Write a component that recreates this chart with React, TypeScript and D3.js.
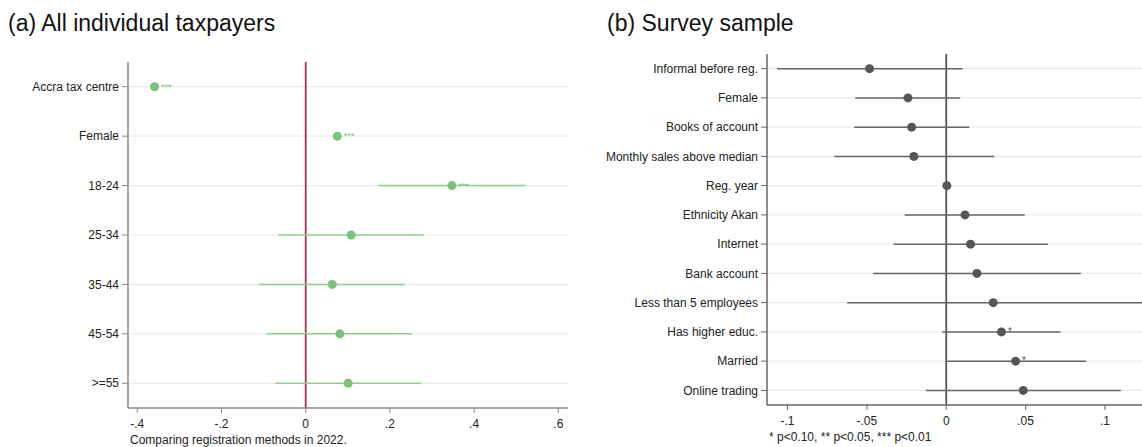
import React from 'react';
import * as d3 from 'd3';

// (a) all individual taxpayers
const catsA = ['Accra tax centre', 'Female', '18-24', '25-34', '35-44', '45-54', '>=55'];
const coefA = [-0.359, 0.075, 0.347, 0.108, 0.063, 0.081, 0.101];
const loA = [-0.366, 0.068, 0.172, -0.065, -0.111, -0.092, -0.072];
const hiA = [-0.352, 0.082, 0.522, 0.281, 0.235, 0.253, 0.274];
const starsA = ['***', '***', '***', '', '', '', ''];
const ticksA = [-0.4, -0.2, 0, 0.2, 0.4, 0.6];
const tickLabelsA = ['-.4', '-.2', '0', '.2', '.4', '.6'];

// (b) survey sample
const catsB = ['Informal before reg.', 'Female', 'Books of account', 'Monthly sales above median', 'Reg. year',
  'Ethnicity Akan', 'Internet', 'Bank account', 'Less than 5 employees', 'Has higher educ.', 'Married', 'Online trading'];
const coefB = [-0.0483, -0.0241, -0.0218, -0.0204, 0.0004, 0.0118, 0.0153, 0.0193, 0.0296, 0.0348, 0.0437, 0.0485];
const loB = [-0.1066, -0.0573, -0.058, -0.0705, 0.0002, -0.0262, -0.0332, -0.046, -0.0624, -0.0025, 0.0, -0.0128];
const hiB = [0.0103, 0.0088, 0.0145, 0.0302, 0.0006, 0.0495, 0.064, 0.0848, 0.125, 0.072, 0.0882, 0.110];
const starsB = ['', '', '', '', '', '', '', '', '', '*', '*', ''];
const ticksB = [-0.1, -0.05, 0, 0.05, 0.1];
const tickLabelsB = ['-.1', '-.05', '0', '.05', '.1'];

const font = 'Liberation Sans, Arial, sans-serif';

type PanelProps = {
  title: string; titleX: number;
  cats: string[]; coef: number[]; lo: number[]; hi: number[]; stars: string[];
  ticks: number[]; tickLabels: string[];
  left: number; right: number; top: number; bottom: number;
  domain: [number, number];
  color: string; ciColor: string; zeroColor: string; axisColor: string;
  r: number; starSize: number; note: string;
};

function Panel(p: PanelProps) {
  const x = d3.scaleLinear().domain(p.domain).range([p.left, p.right]);
  const y = d3.scalePoint<string>().domain(p.cats).range([p.top, p.bottom]).padding(0.5);
  const clip = (v: number) => Math.max(p.left, Math.min(p.right, x(v)));
  return (
    <g fontFamily={font}>
      <text x={p.titleX} y={31} fontSize={23} fill="#111">{p.title}</text>
      {p.cats.map(c => (
        <line key={'g' + c} x1={p.left} x2={p.right} y1={y(c)} y2={y(c)} stroke="#ececec" strokeWidth={1.2} />
      ))}
      <line x1={x(0)} x2={x(0)} y1={p.top} y2={p.bottom} stroke={p.zeroColor} strokeWidth={1.8} />
      {p.cats.map((c, i) => (
        <g key={'m' + c}>
          <line x1={clip(p.lo[i])} x2={clip(p.hi[i])} y1={y(c)} y2={y(c)} stroke={p.ciColor} strokeWidth={1.5} />
          <circle cx={x(p.coef[i])} cy={y(c)} r={p.r} fill={p.color} />
          {p.stars[i] && (
            <text x={x(p.coef[i]) + p.r + 2} y={y(c)! + 3} fontSize={p.starSize} fill={p.color}>{p.stars[i]}</text>
          )}
        </g>
      ))}
      <line x1={p.left} x2={p.left} y1={p.top} y2={p.bottom} stroke={p.axisColor} strokeWidth={1.5} />
      <line x1={p.left} x2={p.right} y1={p.bottom} y2={p.bottom} stroke={p.axisColor} strokeWidth={1.5} />
      {p.cats.map(c => (
        <g key={'t' + c}>
          <line x1={p.left - 6} x2={p.left} y1={y(c)} y2={y(c)} stroke={p.axisColor} strokeWidth={1} />
          <text x={p.left - 9} y={y(c)} dy="0.35em" textAnchor="end" fontSize={12} fill="#222">{c}</text>
        </g>
      ))}
      {p.ticks.map((t, i) => (
        <g key={'x' + t}>
          <line x1={x(t)} x2={x(t)} y1={p.bottom} y2={p.bottom + 5} stroke={p.axisColor} strokeWidth={1} />
          <text x={x(t)} y={p.bottom + 20} textAnchor="middle" fontSize={12} fill="#222">{p.tickLabels[i]}</text>
        </g>
      ))}
      <text x={p.left + 2} y={p.bottom + 36} fontSize={12} fill="#222">{p.note}</text>
    </g>
  );
}

export default function App() {
  return (
    <svg width={1142} height={447} style={{ position: 'absolute', left: 0, top: 0, background: '#fff' }}>
      <Panel title="(a) All individual taxpayers" titleX={8}
        cats={catsA} coef={coefA} lo={loA} hi={hiA} stars={starsA}
        ticks={ticksA} tickLabels={tickLabelsA}
        left={128} right={568} top={62} bottom={408} domain={[-0.4221, 0.6230]}
        color="#78c47a" ciColor="#8fd08f" zeroColor="#a3324f" axisColor="#888"
        r={4.5} starSize={9} note="Comparing registration methods in 2022." />
      <Panel title="(b) Survey sample" titleX={607}
        cats={catsB} coef={coefB} lo={loB} hi={hiB} stars={starsB}
        ticks={ticksB} tickLabels={tickLabelsB}
        left={767} right={1142} top={54} bottom={405} domain={[-0.1129, 0.1233]}
        color="#555" ciColor="#666" zeroColor="#555" axisColor="#666"
        r={4.5} starSize={10} note="* p<0.10, ** p<0.05, *** p<0.01" />
    </svg>
  );
}
